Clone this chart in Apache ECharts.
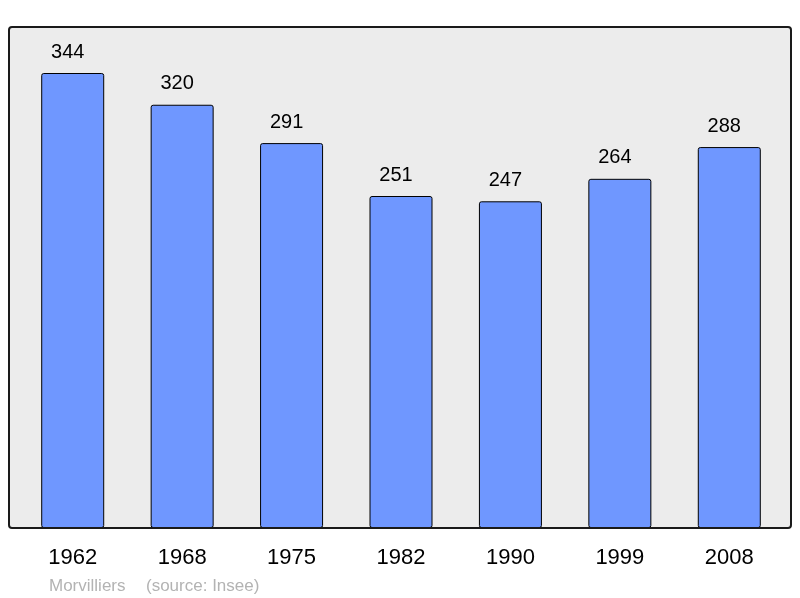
<!DOCTYPE html>
<html>
<head>
<meta charset="utf-8">
<script src="https://cdn.jsdelivr.net/npm/echarts@6/dist/echarts.min.js"></script>
<style>
html,body{margin:0;padding:0;background:#fff;}
#chart{width:800px;height:598px;}
</style>
</head>
<body>
<div id="chart"></div>
<script>
var categories = ['1962', '1968', '1975', '1982', '1990', '1999', '2008'];
var population = [344, 320, 291, 251, 247, 264, 288];
var sourceName = 'Morvilliers';
var sourceNote = '(source: Insee)';

var FONT = '"Liberation Sans", Arial, sans-serif';
var chart = echarts.init(document.getElementById('chart'), null, {renderer: 'canvas'});
chart.setOption({
  animation: false,
  backgroundColor: '#ffffff',
  grid: {left: 18, right: 16, top: 73, bottom: 70, containLabel: false},
  xAxis: {
    type: 'category',
    data: categories,
    axisLine: {show: false},
    axisTick: {show: false},
    axisLabel: {fontFamily: FONT, fontSize: 22, color: '#000', margin: 19}
  },
  yAxis: {
    type: 'value',
    min: 0,
    max: 344,
    show: false
  },
  graphic: [
    {type: 'rect', z: -10, silent: true,
     shape: {x: 9, y: 27, width: 782, height: 501, r: 3},
     style: {fill: '#ececec', stroke: null}},
    {type: 'rect', z: 100, silent: true,
     shape: {x: 9, y: 27, width: 782, height: 501, r: 3},
     style: {fill: null, stroke: '#1a1a1a', lineWidth: 2}},
    {type: 'text', left: 49, top: 578, silent: true,
     style: {text: sourceName, fill: '#b3b3b3', font: '17px ' + FONT}},
    {type: 'text', left: 146, top: 578, silent: true,
     style: {text: sourceNote, fill: '#b3b3b3', font: '17px ' + FONT}}
  ],
  series: [{
    type: 'bar',
    data: population,
    barWidth: 63,
    itemStyle: {color: '#6f97ff', borderColor: '#000', borderWidth: 1, borderRadius: 2},
    label: {show: true, position: 'top', distance: 11, offset: [-5, 0], fontFamily: FONT, fontSize: 20, color: '#000'}
  }]
});
</script>
</body>
</html>
